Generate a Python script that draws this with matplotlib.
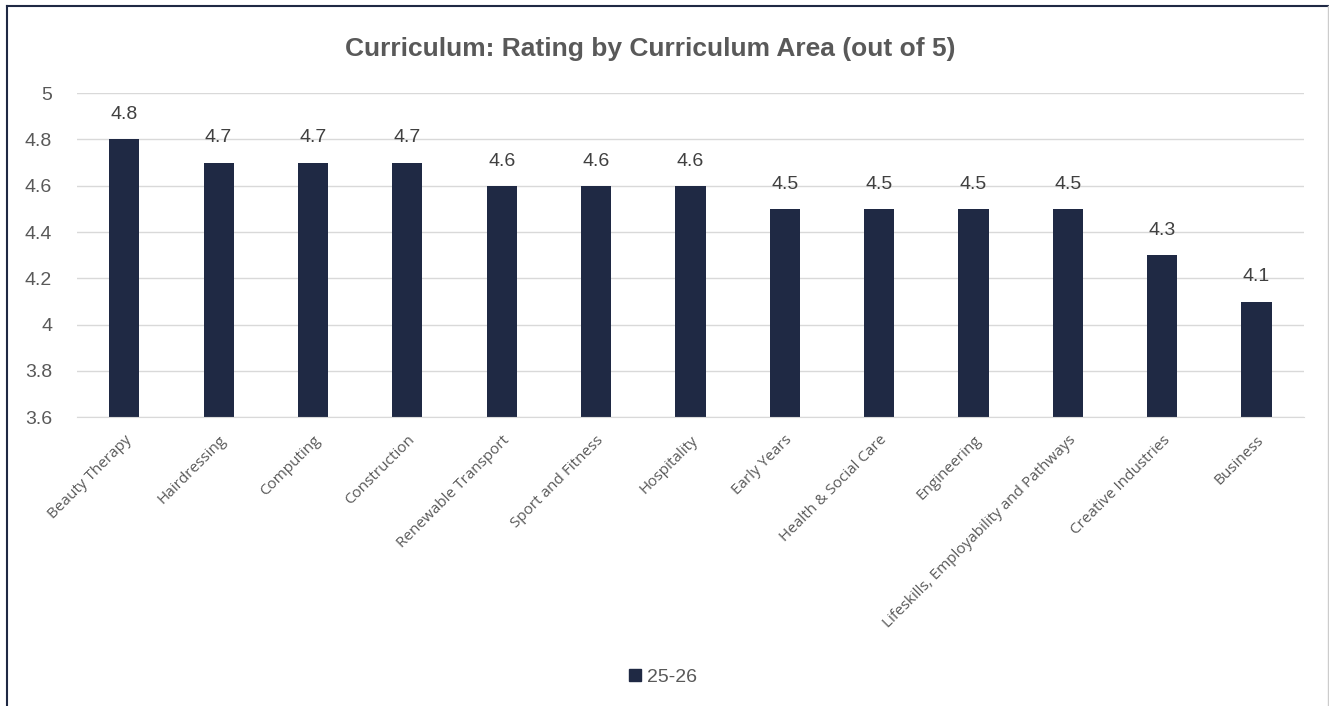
import matplotlib.pyplot as plt
from matplotlib.lines import Line2D
from matplotlib.patches import Rectangle

# data
areas = ['Beauty Therapy', 'Hairdressing', 'Computing', 'Construction',
         'Renewable Transport', 'Sport and Fitness', 'Hospitality', 'Early Years',
         'Health & Social Care', 'Engineering',
         'Lifeskills, Employability and Pathways', 'Creative Industries', 'Business']
ratings = [4.8, 4.7, 4.7, 4.7, 4.6, 4.6, 4.6, 4.5, 4.5, 4.5, 4.5, 4.3, 4.1]
y_ticks = [3.6, 3.8, 4, 4.2, 4.4, 4.6, 4.8, 5]
y_tick_labels = ['3.6', '3.8', '4', '4.2', '4.4', '4.6', '4.8', '5']
series_name = '25-26'

bar_color = '#1f2944'
text_color = '#595959'

plt.rcParams['font.family'] = ['Liberation Sans', 'DejaVu Sans']

fig = plt.figure(figsize=(13.29, 7.06), dpi=100)
ax = fig.add_axes([0.058, 0.409, 0.923, 0.459])

x = range(len(areas))
bars = ax.bar(x, ratings, width=0.32, color=bar_color, label=series_name, zorder=3)

# value labels above bars
for xi, v in zip(x, ratings):
    ax.text(xi, v + 0.07, f'{v:g}', ha='center', va='bottom', fontsize=14, color='#404040')

ax.set_xlim(-0.5, len(areas) - 0.5)
ax.set_ylim(3.6, 5)
ax.set_yticks(y_ticks)
ax.set_yticklabels(y_tick_labels, fontsize=14, color=text_color)
ax.yaxis.grid(True, color='#d9d9d9', linewidth=1, zorder=0)
ax.tick_params(axis='both', length=0)
ax.tick_params(axis='y', pad=18)

ax.set_xticks(list(x))
ax.set_xticklabels(areas, rotation=45, ha='right', rotation_mode='anchor',
                   fontsize=11, color=text_color, family=['Open Sans', 'DejaVu Sans'])
ax.tick_params(axis='x', pad=11)

for s in ['top', 'right', 'left']:
    ax.spines[s].set_visible(False)
ax.spines['bottom'].set_color('#d9d9d9')
ax.spines['bottom'].set_zorder(4)

fig.text(0.489, 0.931, 'Curriculum: Rating by Curriculum Area (out of 5)',
         ha='center', va='center', fontsize=19, fontweight='bold', color=text_color)

fig.legend(handles=[Rectangle((0, 0), 1, 1, color=bar_color)], labels=[series_name],
           loc='center', bbox_to_anchor=(0.499, 0.041), frameon=False,
           fontsize=14, handlelength=0.6, handleheight=0.6, handletextpad=0.3,
           labelcolor=text_color)

# outer frame: navy on left/top, light grey on right
fig.add_artist(Line2D([7 / 1329, 7 / 1329], [0, 1 - 6 / 706], color='#1f2944', linewidth=1.5))
fig.add_artist(Line2D([7 / 1329, 1], [1 - 6 / 706, 1 - 6 / 706], color='#1f2944', linewidth=1.5))
fig.add_artist(Line2D([1328 / 1329, 1328 / 1329], [0, 1 - 6 / 706], color='#cccccc', linewidth=1))

fig.savefig('out.png', dpi=100)
